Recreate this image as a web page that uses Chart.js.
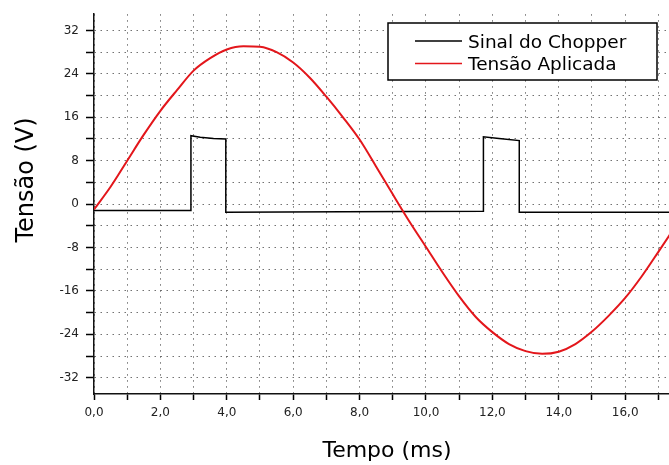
<!DOCTYPE html>
<html>
<head>
<meta charset="utf-8">
<script src="https://cdn.jsdelivr.net/npm/chart.js@4.4.1/dist/chart.umd.min.js"></script>
<style>
  html, body { margin: 0; padding: 0; background: #fff; overflow: hidden; }
  canvas { display: block; }
</style>
</head>
<body>
<canvas id="chart" width="669" height="465"></canvas>
<script>
/* ===============================
   DATA
================================ */

/* Tensão Aplicada: time (ms) and volts */
const appliedTime = [
  0, 0.5, 1, 1.5, 2, 2.5, 3, 3.5, 4, 4.5, 5, 5.5, 6, 6.5, 7, 7.5, 8, 8.5,
  9, 9.5, 10, 10.5, 11, 11.5, 12, 12.5, 13, 13.5, 14, 14.5, 15, 15.5, 16, 16.5, 17, 17.5
];
const appliedVolts = [
  -1.0, 3.2, 8.0, 12.8, 17.2, 21.0, 24.6, 26.9, 28.5, 29.1, 29.0, 28.0, 26.1, 23.3, 19.8, 16.0, 11.9, 6.9,
  1.8, -3.2, -7.9, -12.6, -17.0, -20.8, -23.6, -25.8, -27.1, -27.6, -27.2, -25.8, -23.5, -20.6, -17.3, -13.3, -8.8, -4.2
];

/* Sinal do Chopper: square pulses */
const chopperTime = [0, 2.92, 2.92, 3.2, 3.6, 3.97, 3.97, 7.5, 11.73, 11.73, 12.2, 12.81, 12.81, 17.5];
const chopperVolts = [-1.2, -1.2, 12.6, 12.3, 12.1, 12.0, -1.5, -1.4, -1.3, 12.4, 12.1, 11.7, -1.5, -1.5];

/* Tick labels */
const xTickLabels = ["0,0", "2,0", "4,0", "6,0", "8,0", "10,0", "12,0", "14,0", "16,0"];
const yTickLabels = [-32, -24, -16, -8, 0, 8, 16, 24, 32];

const toPoints = (xs, ys) => xs.map((x, i) => ({ x: x, y: ys[i] }));

/* -------------------------------
   Titles + boxed legend
-------------------------------- */
const overlay = {
  id: "overlay",
  afterDraw(chart) {
    const ctx = chart.ctx;
    ctx.save();

    // axis titles
    ctx.fillStyle = "#000";
    ctx.textAlign = "center";
    ctx.textBaseline = "alphabetic";
    ctx.font = '22px "DejaVu Sans"';
    ctx.fillText("Tempo (ms)", 387, 457);

    ctx.save();
    ctx.translate(33, 180);
    ctx.rotate(-Math.PI / 2);
    ctx.font = '24px "DejaVu Sans"';
    ctx.fillText("Tensão (V)", 0, 0);
    ctx.restore();

    // legend box
    ctx.fillStyle = "#fff";
    ctx.fillRect(388, 23, 269, 57);
    ctx.strokeStyle = "#000";
    ctx.lineWidth = 1.5;
    ctx.strokeRect(388, 23, 269, 57);

    ctx.font = '18.5px "DejaVu Sans"';
    ctx.textAlign = "left";
    chart.data.datasets.forEach((ds, i) => {
      const y = 41 + i * 22.5;
      ctx.strokeStyle = ds.borderColor;
      ctx.lineWidth = 1.5;
      ctx.beginPath();
      ctx.moveTo(415, y);
      ctx.lineTo(462, y);
      ctx.stroke();
      ctx.fillStyle = "#000";
      ctx.fillText(ds.label, 468, y + 6.5);
    });

    ctx.restore();
  }
};

const gridStyle = {
  color: "rgba(20,20,20,0.6)",
  lineWidth: 1,
  tickColor: "#000",
  tickBorderDash: [1, 0],
  tickWidth: 1.5
};

// in v4 the grid-line dash lives in border.dash
const borderStyle = { color: "#111", width: 1.5, dash: [1.5, 4.5] };

new Chart(document.getElementById("chart"), {
  type: "line",
  data: {
    datasets: [
      {
        label: "Sinal do Chopper",
        data: toPoints(chopperTime, chopperVolts),
        borderColor: "#000000",
        borderWidth: 1.5,
        pointRadius: 0,
        tension: 0,
        order: 1
      },
      {
        label: "Tensão Aplicada",
        data: toPoints(appliedTime, appliedVolts),
        borderColor: "#e3161b",
        borderWidth: 2,
        pointRadius: 0,
        cubicInterpolationMode: "monotone",
        order: 0
      }
    ]
  },
  options: {
    responsive: false,
    animation: false,
    devicePixelRatio: 1,
    layout: { padding: { top: 13, right: 0, left: 0, bottom: 0 } },
    plugins: {
      legend: { display: false },
      tooltip: { enabled: false }
    },
    scales: {
      x: {
        type: "linear",
        min: 0,
        max: 17.32,
        afterFit: s => { s.height = 71; },
        border: borderStyle,
        grid: Object.assign({ tickLength: 6 }, gridStyle),
        ticks: {
          stepSize: 1,
          includeBounds: false,
          autoSkip: false,
          maxRotation: 0,
          padding: 6,
          color: "#222",
          font: { family: "DejaVu Sans", size: 12 },
          callback: v => (v % 2 === 0 ? xTickLabels[v / 2] : "")
        }
      },
      y: {
        min: -35,
        max: 35,
        afterFit: s => { s.width = 94; },
        border: borderStyle,
        grid: Object.assign({ tickLength: 8 }, gridStyle),
        ticks: {
          stepSize: 4,
          includeBounds: false,
          autoSkip: false,
          padding: 7,
          color: "#222",
          font: { family: "DejaVu Sans", size: 12 },
          callback: v => (yTickLabels.includes(v) ? String(v) : "")
        }
      }
    }
  },
  plugins: [overlay]
});
</script>
</body>
</html>
